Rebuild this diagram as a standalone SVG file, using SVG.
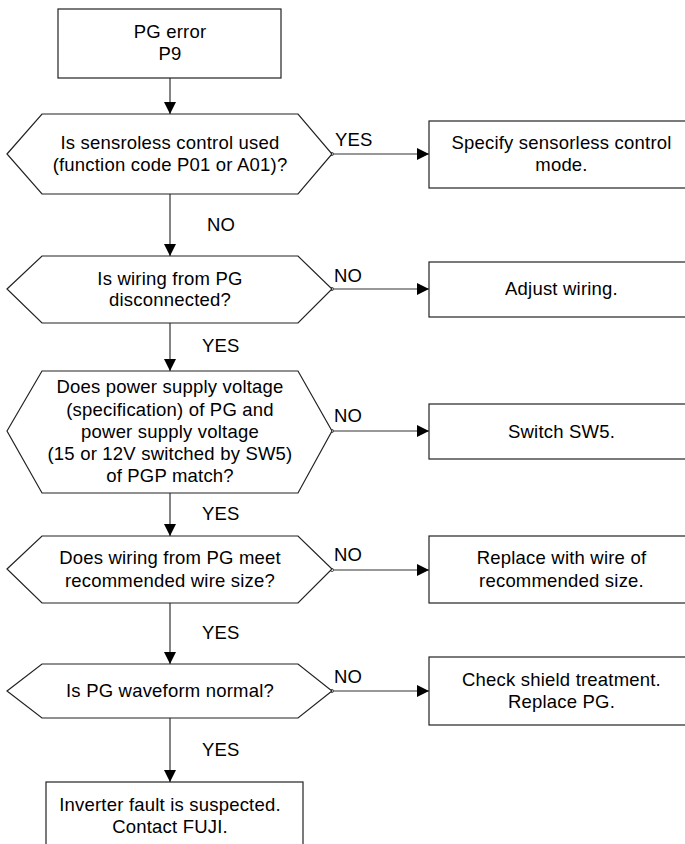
<svg xmlns="http://www.w3.org/2000/svg" width="685" height="844" viewBox="0 0 685 844">
<defs>
<marker id="arr" markerUnits="userSpaceOnUse" markerWidth="14" markerHeight="14" refX="12" refY="6" orient="auto">
<path d="M0,0 L12,6 L0,12 Z" fill="#000"/>
</marker>
<marker id="dot" markerUnits="userSpaceOnUse" markerWidth="6" markerHeight="6" refX="3" refY="3" orient="auto">
<circle cx="3" cy="3" r="1.6" fill="#fff" stroke="#333" stroke-width="0.8"/>
</marker>
</defs>
<style>
.shape{fill:#fff;stroke:#222;stroke-width:1.2}
.t{font-family:"Liberation Sans",Arial,sans-serif;font-size:18.5px;letter-spacing:0.2px;fill:#000;text-anchor:middle}
.lbl{font-family:"Liberation Sans",Arial,sans-serif;font-size:18.5px;letter-spacing:0.2px;fill:#000}
.c{fill:none;stroke:#333;stroke-width:1.2}
.h{marker-start:url(#dot);marker-end:url(#arr)}
.v{marker-end:url(#arr)}
</style>
<rect width="685" height="844" fill="#fff"/>

<g id="connectors">
<line class="c v" x1="170" y1="78" x2="170" y2="114"/>
<line class="c v" x1="170" y1="194" x2="170" y2="256"/>
<line class="c v" x1="170" y1="323" x2="170" y2="371"/>
<line class="c v" x1="170" y1="493" x2="170" y2="536"/>
<line class="c v" x1="170" y1="603" x2="170" y2="664"/>
<line class="c v" x1="170" y1="718" x2="170" y2="782"/>
<line class="c h" x1="332" y1="154" x2="429" y2="154"/>
<line class="c h" x1="332" y1="289" x2="429" y2="289"/>
<line class="c h" x1="332" y1="431" x2="429" y2="431"/>
<line class="c h" x1="332" y1="570" x2="429" y2="570"/>
<line class="c h" x1="332" y1="691" x2="429" y2="691"/>
<text class="lbl" x="335" y="146">YES</text>
<text class="lbl" x="207" y="231">NO</text>
<text class="lbl" x="334" y="282">NO</text>
<text class="lbl" x="202" y="352">YES</text>
<text class="lbl" x="334" y="422">NO</text>
<text class="lbl" x="202" y="520">YES</text>
<text class="lbl" x="334" y="561">NO</text>
<text class="lbl" x="202" y="639">YES</text>
<text class="lbl" x="334" y="683">NO</text>
<text class="lbl" x="202" y="756">YES</text>
</g>

<g id="start">
<rect class="shape" x="58" y="9" width="223" height="69"/>
<text class="t" x="170" y="38">PG error</text>
<text class="t" x="170" y="60">P9</text>
</g>

<g id="q1">
<polygon class="shape" points="7,154 42,114 298,114 332,154 298,194 42,194"/>
<text class="t" x="170" y="148.5">Is sensroless control used</text>
<text class="t" x="170" y="171">(function code P01 or A01)?</text>
</g>

<g id="a1">
<rect class="shape" x="429" y="121" width="265" height="67"/>
<text class="t" x="561.5" y="149">Specify sensorless control</text>
<text class="t" x="561.5" y="171">mode.</text>
</g>

<g id="q2">
<polygon class="shape" points="7,289 42,256 298,256 332,289 298,323 42,323"/>
<text class="t" x="170" y="284.5">Is wiring from PG</text>
<text class="t" x="170" y="306">disconnected?</text>
</g>

<g id="a2">
<rect class="shape" x="429" y="262" width="265" height="55"/>
<text class="t" x="561.5" y="295">Adjust wiring.</text>
</g>

<g id="q3">
<polygon class="shape" points="7,431 42,371 298,371 332,431 298,493 42,493"/>
<text class="t" x="170" y="393.3">Does power supply voltage</text>
<text class="t" x="170" y="415.5">(specification) of PG and</text>
<text class="t" x="170" y="437.5">power supply voltage</text>
<text class="t" x="170" y="460">(15 or 12V switched by SW5)</text>
<text class="t" x="170" y="482.3">of PGP match?</text>
</g>

<g id="a3">
<rect class="shape" x="429" y="404" width="265" height="55"/>
<text class="t" x="561.5" y="438.3">Switch SW5.</text>
</g>

<g id="q4">
<polygon class="shape" points="7,569 42,536 298,536 332,569 298,603 42,603"/>
<text class="t" x="170" y="564.3">Does wiring from PG meet</text>
<text class="t" x="170" y="586.7">recommended wire size?</text>
</g>

<g id="a4">
<rect class="shape" x="429" y="536" width="265" height="67"/>
<text class="t" x="561.5" y="564.3">Replace with wire of</text>
<text class="t" x="561.5" y="586.7">recommended size.</text>
</g>

<g id="q5">
<polygon class="shape" points="7,691 42,664 298,664 332,691 298,718 42,718"/>
<text class="t" x="170" y="697.3">Is PG waveform normal?</text>
</g>

<g id="a5">
<rect class="shape" x="429" y="657" width="265" height="68"/>
<text class="t" x="561.5" y="685.7">Check shield treatment.</text>
<text class="t" x="561.5" y="707.7">Replace PG.</text>
</g>

<g id="end">
<rect class="shape" x="46" y="782" width="257" height="70"/>
<text class="t" x="170" y="810.7">Inverter fault is suspected.</text>
<text class="t" x="170" y="832.7">Contact FUJI.</text>
</g>
</svg>
